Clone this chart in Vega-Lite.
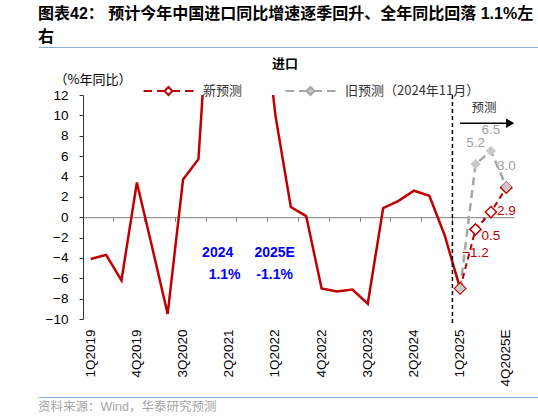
{
  "$schema": "https://vega.github.io/schema/vega-lite/v6.json",
  "padding": {"left": 37, "top": 5, "right": 0, "bottom": 0},
  "spacing": 9,
  "resolve": {"scale": {"fill": "independent", "stroke": "independent"}, "legend": {"fill": "independent", "stroke": "independent"}},
  "config": {"view": {"stroke": null}},
  "datasets": {
    "act": [
      {"q": "1Q2019", "v": -4.1}, {"q": "2Q2019", "v": -3.7}, {"q": "3Q2019", "v": -6.2}, {"q": "4Q2019", "v": 3.4},
      {"q": "1Q2020", "v": -3.0}, {"q": "2Q2020", "v": -9.5}, {"q": "3Q2020", "v": 3.7}, {"q": "4Q2020", "v": 5.7},
      {"q": "1Q2021", "v": 29.0}, {"q": "2Q2021", "v": 44.0}, {"q": "3Q2021", "v": 25.9}, {"q": "4Q2021", "v": 23.5},
      {"q": "1Q2022", "v": 10.0}, {"q": "2Q2022", "v": 1.0}, {"q": "3Q2022", "v": 0.1}, {"q": "4Q2022", "v": -7.0},
      {"q": "1Q2023", "v": -7.3}, {"q": "2Q2023", "v": -7.1}, {"q": "3Q2023", "v": -8.5}, {"q": "4Q2023", "v": 0.9},
      {"q": "1Q2024", "v": 1.6}, {"q": "2Q2024", "v": 2.6}, {"q": "3Q2024", "v": 2.1}, {"q": "4Q2024", "v": -1.8},
      {"q": "1Q2025", "v": -7.0}
    ],
    "fc": [
      {"q": "1Q2025", "v": -7.0, "s": "新预测"},
      {"q": "2Q2025", "v": -1.2, "s": "新预测"},
      {"q": "3Q2025", "v": 0.5, "s": "新预测"},
      {"q": "4Q2025E", "v": 2.9, "s": "新预测"},
      {"q": "1Q2025", "v": -7.0, "s": "旧预测（2024年11月）"},
      {"q": "2Q2025", "v": 5.2, "s": "旧预测（2024年11月）"},
      {"q": "3Q2025", "v": 6.5, "s": "旧预测（2024年11月）"},
      {"q": "4Q2025E", "v": 3.0, "s": "旧预测（2024年11月）"}
    ]
  },
  "vconcat": [
    {
      "width": 501,
      "height": 1,
      "view": {"stroke": "#8faadc", "strokeWidth": 1, "strokeDash": [501, 3000]},
      "title": {
        "text": ["图表42：  预计今年中国进口同比增速逐季回升、全年同比回落 1.1%左", "右"],
        "font": "Liberation Sans, Noto Sans CJK SC",
        "fontSize": 16,
        "fontWeight": "bold",
        "lineHeight": 23.4,
        "anchor": "start",
        "color": "#000000",
        "offset": 2
      },
      "data": {"values": []},
      "mark": "point",
      "encoding": {}
    },
    {
      "width": 476,
      "height": 224,
      "title": {
        "text": "进口",
        "font": "Noto Sans CJK SC",
        "fontSize": 13,
        "fontWeight": "bold",
        "anchor": "middle",
        "dx": 9,
        "offset": 2,
        "color": "#000000"
      },
      "resolve": {"axis": {"x": "independent", "y": "independent"}},
      "layer": [
        {
          "data": {"name": "act"},
          "mark": {"type": "line", "color": "#c00000", "strokeWidth": 2.5, "clip": true},
          "encoding": {
            "x": {
              "field": "q", "type": "ordinal", "bandPosition": 0.5,
              "scale": {"type": "band", "paddingInner": 0, "paddingOuter": 0, "range": [45, 476],
                "domain": ["1Q2019","2Q2019","3Q2019","4Q2019","1Q2020","2Q2020","3Q2020","4Q2020","1Q2021","2Q2021","3Q2021","4Q2021","1Q2022","2Q2022","3Q2022","4Q2022","1Q2023","2Q2023","3Q2023","4Q2023","1Q2024","2Q2024","3Q2024","4Q2024","1Q2025","2Q2025","3Q2025","4Q2025E"]},
              "axis": {
                "orient": "bottom",
                "values": ["1Q2019","4Q2019","3Q2020","2Q2021","1Q2022","4Q2022","3Q2023","2Q2024","1Q2025","4Q2025E"],
                "labelAngle": 270,
                "labelFont": "Liberation Sans",
                "labelFontSize": 13.5,
                "labelColor": "#000000",
                "labelPadding": 10,
                "labelOverlap": false,
                "ticks": false,
                "domain": false,
                "grid": false,
                "title": null
              }
            },
            "y": {
              "field": "v", "type": "quantitative",
              "scale": {"domain": [-10, 12], "nice": false, "zero": false},
              "axis": {
                "orient": "left",
                "offset": -45,
                "values": [-10, -8, -6, -4, -2, 0, 2, 4, 6, 8, 10, 12],
                "labelOverlap": false,
                "labelFont": "Liberation Sans",
                "labelFontSize": 13.5,
                "labelColor": "#000000",
                "labelPadding": 11,
                "tickSize": 4,
                "tickColor": "#333333",
                "domainColor": "#333333",
                "grid": false,
                "title": "（%年同比）",
                "titleFont": "Noto Sans CJK SC",
                "titleFontSize": 13,
                "titleFontWeight": "normal",
                "titleColor": "#000000",
                "titleAngle": 0,
                "titleAlign": "left",
                "titleBaseline": "middle",
                "titleX": -29,
                "titleY": -16
              }
            }
          }
        },
        {
          "data": {"name": "fc"},
          "transform": [{"filter": "datum.s !== '新预测'"}],
          "mark": {"type": "line", "color": "#a6a6a6", "strokeWidth": 2.5, "strokeDash": [8, 5]},
          "encoding": {
            "x": {
              "field": "q", "type": "ordinal", "bandPosition": 0.5,
              "axis": {
                "orient": "bottom",
                "offset": -101.82,
                "values": ["1Q2019","3Q2019","1Q2020","3Q2020","1Q2021","3Q2021","1Q2022","3Q2022","1Q2023","3Q2023","1Q2024","3Q2024","1Q2025","3Q2025"],
                "bandPosition": 0,
                "labels": false,
                "ticks": true,
                "tickSize": 4,
                "tickColor": "#7f7f7f",
                "domain": true,
                "domainColor": "#7f7f7f",
                "grid": false,
                "title": null
              }
            },
            "y": {"field": "v", "type": "quantitative", "axis": null}
          }
        },
        {
          "data": {"name": "fc"},
          "transform": [{"filter": "datum.s === '新预测'"}],
          "mark": {"type": "line", "color": "#c00000", "strokeWidth": 2, "strokeDash": [6, 4]},
          "encoding": {
            "x": {"field": "q", "type": "ordinal", "bandPosition": 0.5, "axis": null},
            "y": {"field": "v", "type": "quantitative", "axis": null}
          }
        },
        {
          "mark": {"type": "rule", "color": "#000000", "strokeWidth": 1.5, "strokeDash": [4, 3]},
          "data": {"values": [{}]},
          "encoding": {
            "x": {"datum": "1Q2025", "type": "ordinal", "bandPosition": 0, "axis": null},
            "y": {"datum": 12, "type": "quantitative", "axis": null},
            "y2": {"datum": -10.6}
          }
        },
        {
          "data": {"name": "fc"},
          "transform": [{"filter": "datum.s === '新预测'"}],
          "mark": {"type": "point", "shape": "diamond", "size": 125, "filled": true, "opacity": 1, "strokeWidth": 1.5},
          "encoding": {
            "x": {"field": "q", "type": "ordinal", "bandPosition": 0.5, "axis": null},
            "y": {"field": "v", "type": "quantitative", "axis": null},
            "fill": {
              "field": "s", "type": "nominal",
              "scale": {"domain": ["新预测", "旧预测（2024年11月）"], "range": ["#ffffff", "#c8c8c8"]},
              "legend": {
                "title": null, "orient": "none", "legendX": 119.5, "legendY": -15, "direction": "horizontal",
                "symbolType": "M-2.5,0H-1.65M-1.15,0H-0.4M-0.4,0L0,-0.4L0.4,0L0,0.4ZM0.4,0H1.15M1.65,0H2.5",
                "symbolSize": 400, "symbolStrokeWidth": 2,
                "labelFont": "Noto Sans CJK SC", "labelFontSize": 13, "labelColor": "#333333",
                "labelOffset": 23.5, "columnPadding": 39, "padding": 0
              }
            },
            "stroke": {
              "field": "s", "type": "nominal",
              "scale": {"domain": ["新预测", "旧预测（2024年11月）"], "range": ["#c00000", "#a6a6a6"]},
              "legend": {
                "title": null, "orient": "none", "legendX": 119.5, "legendY": -15, "direction": "horizontal",
                "symbolType": "M-2.5,0H-1.65M-1.15,0H-0.4M-0.4,0L0,-0.4L0.4,0L0,0.4ZM0.4,0H1.15M1.65,0H2.5",
                "symbolSize": 400, "symbolStrokeWidth": 2,
                "labelFont": "Noto Sans CJK SC", "labelFontSize": 13, "labelColor": "#333333",
                "labelOffset": 23.5, "columnPadding": 39, "padding": 0
              }
            }
          }
        },
        {
          "data": {"name": "fc"},
          "transform": [{"filter": "datum.s !== '新预测'"}],
          "mark": {"type": "point", "shape": "diamond", "size": 105, "filled": true, "opacity": 1, "strokeWidth": 0},
          "encoding": {
            "x": {"field": "q", "type": "ordinal", "bandPosition": 0.5, "axis": null},
            "y": {"field": "v", "type": "quantitative", "axis": null},
            "fill": {"field": "s", "type": "nominal"}
          }
        },
        {
          "data": {"name": "fc"},
          "transform": [{"filter": "datum.s === '新预测' && datum.q !== '1Q2025'"}],
          "mark": {"type": "text", "dy": 23.5, "color": "#c00000", "font": "Liberation Sans", "fontSize": 13.5},
          "encoding": {
            "x": {"field": "q", "type": "ordinal", "bandPosition": 0.5, "axis": null},
            "y": {"field": "v", "type": "quantitative", "axis": null},
            "text": {"field": "v", "type": "quantitative", "format": ".1f"}
          }
        },
        {
          "data": {"name": "fc"},
          "transform": [{"filter": "datum.s !== '新预测' && datum.q !== '1Q2025'"}],
          "mark": {"type": "text", "dy": -21, "color": "#a0a0a0", "font": "Liberation Sans", "fontSize": 13.5},
          "encoding": {
            "x": {"field": "q", "type": "ordinal", "bandPosition": 0.5, "axis": null},
            "y": {"field": "v", "type": "quantitative", "axis": null},
            "text": {"field": "v", "type": "quantitative", "format": ".1f"}
          }
        },
        {
          "data": {"values": [{}]},
          "mark": {"type": "rule", "color": "#000000", "strokeWidth": 1.5},
          "encoding": {
            "x": {"datum": "1Q2025", "type": "ordinal", "bandPosition": 0.5, "axis": null},
            "x2": {"datum": "4Q2025E"},
            "y": {"datum": 9.23, "type": "quantitative", "axis": null}
          }
        },
        {
          "data": {"values": [{}]},
          "mark": {"type": "point", "shape": "triangle-right", "size": 90, "filled": true, "opacity": 1, "color": "#000000"},
          "encoding": {
            "x": {"datum": "4Q2025E", "type": "ordinal", "bandPosition": 0.75, "axis": null},
            "y": {"datum": 9.23, "type": "quantitative", "axis": null}
          }
        },
        {
          "data": {"values": [{"t": "预测"}]},
          "mark": {"type": "text", "color": "#333333", "font": "Noto Sans CJK SC", "fontSize": 12.5},
          "encoding": {
            "x": {"datum": "3Q2025", "type": "ordinal", "bandPosition": 0.05, "axis": null},
            "y": {"datum": 10.7, "type": "quantitative", "axis": null},
            "text": {"field": "t"}
          }
        },
        {
          "data": {"values": [{"t": "2024"}]},
          "mark": {"type": "text", "color": "#0000ff", "font": "Liberation Sans", "fontSize": 14, "fontWeight": "bold"},
          "encoding": {
            "x": {"datum": "1Q2021", "type": "ordinal", "bandPosition": 0.75, "axis": null},
            "y": {"datum": -3.5, "type": "quantitative", "axis": null},
            "text": {"field": "t"}
          }
        },
        {
          "data": {"values": [{"t": "1.1%"}]},
          "mark": {"type": "text", "color": "#0000ff", "font": "Liberation Sans", "fontSize": 14, "fontWeight": "bold"},
          "encoding": {
            "x": {"datum": "2Q2021", "type": "ordinal", "bandPosition": 0.2, "axis": null},
            "y": {"datum": -5.7, "type": "quantitative", "axis": null},
            "text": {"field": "t"}
          }
        },
        {
          "data": {"values": [{"t": "2025E"}]},
          "mark": {"type": "text", "color": "#0000ff", "font": "Liberation Sans", "fontSize": 14, "fontWeight": "bold"},
          "encoding": {
            "x": {"datum": "1Q2022", "type": "ordinal", "bandPosition": 0.45, "axis": null},
            "y": {"datum": -3.5, "type": "quantitative", "axis": null},
            "text": {"field": "t"}
          }
        },
        {
          "data": {"values": [{"t": "-1.1%"}]},
          "mark": {"type": "text", "color": "#0000ff", "font": "Liberation Sans", "fontSize": 14, "fontWeight": "bold"},
          "encoding": {
            "x": {"datum": "1Q2022", "type": "ordinal", "bandPosition": 0.45, "axis": null},
            "y": {"datum": -5.7, "type": "quantitative", "axis": null},
            "text": {"field": "t"}
          }
        }
      ]
    },
    {
      "width": 501,
      "height": 1,
      "view": {"stroke": "#8faadc", "strokeWidth": 1, "strokeDash": [501, 3000]},
      "title": {
        "text": "资料来源：Wind，华泰研究预测",
        "orient": "bottom",
        "anchor": "start",
        "font": "Liberation Sans, Noto Sans CJK SC",
        "fontSize": 12.5,
        "fontWeight": "normal",
        "color": "#a6a6a6",
        "offset": 3
      },
      "data": {"values": []},
      "mark": "point",
      "encoding": {}
    }
  ]
}
